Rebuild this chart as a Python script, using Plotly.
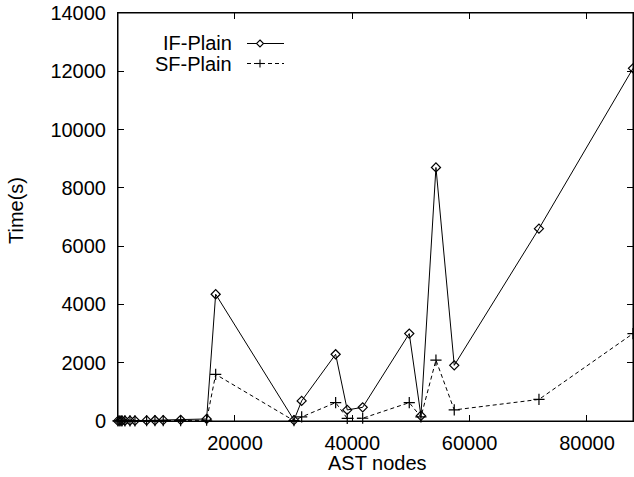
import plotly.graph_objects as go

# ---- data ----
ast_nodes = [60, 390, 730, 1240, 2100, 2950, 4940, 6360, 7770, 10740, 15170,
             16710, 30060, 31370, 37160, 39140, 41770, 49710, 51700, 54260,
             57380, 71820, 87850]
if_plain = [2, 5, 8, 10, 12, 15, 20, 25, 30, 40, 70,
            4350, 30, 690, 2290, 380, 470, 3000, 180, 8700,
            1910, 6600, 12100]
sf_plain = [1, 2, 3, 4, 5, 6, 8, 10, 12, 15, 25,
            1600, 10, 140, 630, 90, 95, 630, 140, 2090,
            380, 740, 3000]
series_names = ["IF-Plain", "SF-Plain"]
x_ticks = [20000, 40000, 60000, 80000]
y_ticks = [0, 2000, 4000, 6000, 8000, 10000, 12000, 14000]

FONT = "Liberation Sans, Arial, sans-serif"
FS = 20
W, H = 634, 477
# plot area in page pixels
PL, PR, PT, PB = 118, 633, 13, 421
L, T, R, B = PL, PT, W - PR, H - PB

fig = go.Figure()
fig.add_trace(go.Scatter(
    x=ast_nodes, y=if_plain, mode="lines+markers", name=series_names[0],
    line=dict(color="black", width=1),
    marker=dict(symbol="diamond-open", size=7, color="black", line=dict(width=1.2)),
    cliponaxis=False, showlegend=False))
fig.add_trace(go.Scatter(
    x=ast_nodes, y=sf_plain, mode="lines+markers", name=series_names[1],
    line=dict(color="black", width=1, dash="4px,3px"),
    marker=dict(symbol="cross-thin-open", size=8, color="black", line=dict(width=1.2, color="black")),
    cliponaxis=False, showlegend=False))

pw = PR - PL
ph = PB - PT
def px2paper_x(px):
    return (px - PL) / pw
def px2paper_y(py):
    return (PB - py) / ph

# border box
fig.add_shape(type="rect", xref="paper", yref="paper", x0=0, y0=0, x1=1, y1=1,
              line=dict(color="black", width=1), layer="above")

# legend (gnuplot style: text on the left, sample on the right)
leg_rows = [(43.5, "solid", 7), (63.5, "4px,3px", 8)]
for i, ((py, dash, sz), nm) in enumerate(zip(leg_rows, series_names)):
    yy = px2paper_y(py)
    fig.add_shape(type="line", xref="paper", yref="paper",
                  x0=px2paper_x(247), x1=px2paper_x(284), y0=yy, y1=yy,
                  line=dict(color="black", width=1, dash=dash))
    cx, cy, h = 260, py, sz / 2
    if i == 0:
        path = f"M {px2paper_x(cx)},{px2paper_y(cy - h)} L {px2paper_x(cx + h)},{px2paper_y(cy)} " \
               f"L {px2paper_x(cx)},{px2paper_y(cy + h)} L {px2paper_x(cx - h)},{px2paper_y(cy)} Z"
        fig.add_shape(type="path", xref="paper", yref="paper", path=path,
                      line=dict(color="black", width=1.1), fillcolor="white")
    else:
        fig.add_shape(type="line", xref="paper", yref="paper",
                      x0=px2paper_x(cx), x1=px2paper_x(cx), y0=px2paper_y(cy - h), y1=px2paper_y(cy + h),
                      line=dict(color="black", width=1.1))
        fig.add_shape(type="line", xref="paper", yref="paper",
                      x0=px2paper_x(cx - h), x1=px2paper_x(cx + h), y0=yy, y1=yy,
                      line=dict(color="black", width=1.1))
    fig.add_annotation(x=px2paper_x(234), y=yy, xref="paper", yref="paper",
                       text=nm, showarrow=False, xanchor="right", yanchor="middle",
                       font=dict(family=FONT, size=FS, color="black"))

fig.add_annotation(x=px2paper_x(377.5), y=px2paper_y(463), xref="paper", yref="paper",
                   text="AST nodes", showarrow=False, xanchor="center", yanchor="middle",
                   font=dict(family=FONT, size=FS, color="black"))
fig.add_annotation(x=px2paper_x(16), y=px2paper_y(211), xref="paper", yref="paper",
                   text="Time(s)", showarrow=False, textangle=-90,
                   xanchor="center", yanchor="middle",
                   font=dict(family=FONT, size=FS, color="black"))

fig.update_layout(
    width=W, height=H,
    margin=dict(l=L, r=R, t=T, b=B, pad=0),
    paper_bgcolor="white", plot_bgcolor="white",
    font=dict(family=FONT, size=FS, color="black"),
    xaxis=dict(range=[ast_nodes[0], ast_nodes[-1]], tickvals=x_ticks,
               ticktext=[str(v) for v in x_ticks],
               showgrid=False, zeroline=False, showline=True, linecolor="black",
               linewidth=1, mirror="ticks", ticks="inside", ticklen=6,
               tickcolor="black", ticklabelstandoff=4, ticklabeloverflow="allow"),
    yaxis=dict(range=[0, 14000], tickvals=y_ticks,
               ticktext=[str(v) for v in y_ticks],
               showgrid=False, zeroline=False, showline=True, linecolor="black",
               linewidth=1, mirror="ticks", ticks="inside", ticklen=6,
               tickcolor="black", ticklabelstandoff=7, ticklabeloverflow="allow"),
)

fig.write_html("out.html", config={"displayModeBar": False},
               post_script="document.body.style.margin='0';document.body.style.overflow='hidden';")
